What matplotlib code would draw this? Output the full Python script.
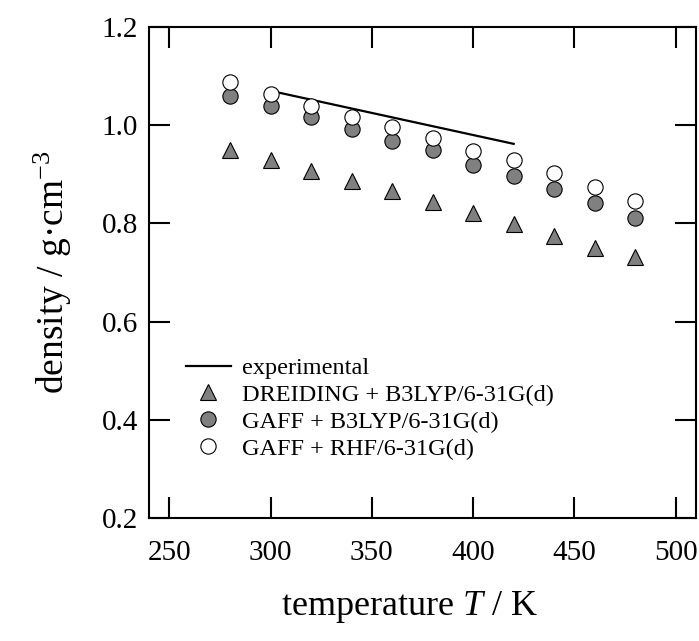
import matplotlib
matplotlib.use('Agg')
import matplotlib.pyplot as plt

plt.rcParams['font.family'] = 'Liberation Serif'
plt.rcParams['mathtext.fontset'] = 'custom'
plt.rcParams['mathtext.rm'] = 'Liberation Serif'
plt.rcParams['mathtext.it'] = 'Liberation Serif:italic'

# data
temp = [280, 300, 320, 340, 360, 380, 400, 420, 440, 460, 480]
dreiding_b3lyp = [0.950, 0.929, 0.907, 0.887, 0.865, 0.844, 0.822, 0.799, 0.774, 0.749, 0.731]
gaff_b3lyp = [1.060, 1.040, 1.017, 0.992, 0.968, 0.950, 0.919, 0.897, 0.871, 0.841, 0.812]
gaff_rhf = [1.087, 1.063, 1.040, 1.017, 0.997, 0.974, 0.948, 0.930, 0.902, 0.875, 0.846]
exp_temp = [300, 420]
exp_density = [1.070, 0.962]

fig = plt.figure(figsize=(6.99, 6.41), dpi=100)
ax = fig.add_axes([149 / 699, 1 - 518 / 641, (696 - 149) / 699, (518 - 27) / 641])

ax.plot(exp_temp, exp_density, color='black', lw=1.6, label='experimental', zorder=2)
ax.plot(temp, dreiding_b3lyp, '^', ms=12, mfc='#808080', mec='black', mew=0.8,
        label='DREIDING + B3LYP/6-31G(d)', zorder=3)
ax.plot(temp, gaff_b3lyp, 'o', ms=11, mfc='#808080', mec='black', mew=0.8,
        label='GAFF + B3LYP/6-31G(d)', zorder=3)
ax.plot(temp, gaff_rhf, 'o', ms=11, mfc='white', mec='black', mew=0.8,
        label='GAFF + RHF/6-31G(d)', zorder=3)

ax.set_xlim(240, 510)
ax.set_ylim(0.2, 1.2)
ax.set_xticks([250, 300, 350, 400, 450, 500])
ax.set_yticks([0.2, 0.4, 0.6, 0.8, 1.0, 1.2])
ax.set_yticklabels(['0.2', '0.4', '0.6', '0.8', '1.0', '1.2'])
ax.tick_params(direction='in', length=15, width=1.5, top=True, right=True,
               labelsize=21)
ax.tick_params(axis='x', pad=16)
ax.tick_params(axis='y', pad=8)
for s in ax.spines.values():
    s.set_linewidth(1.5)

ax.set_xlabel('temperature $T$ / K', fontsize=26)
ax.xaxis.set_label_coords(0.477, -0.145)
ax.set_ylabel('density / g·cm$^{-3}$', fontsize=27, labelpad=20)

ax.legend(loc='lower left', bbox_to_anchor=(0.045, 0.094), frameon=False, fontsize=17.5,
          handlelength=1.85, handletextpad=0.45, labelspacing=0.2, borderpad=0)

fig.savefig('out.png', dpi=100)
